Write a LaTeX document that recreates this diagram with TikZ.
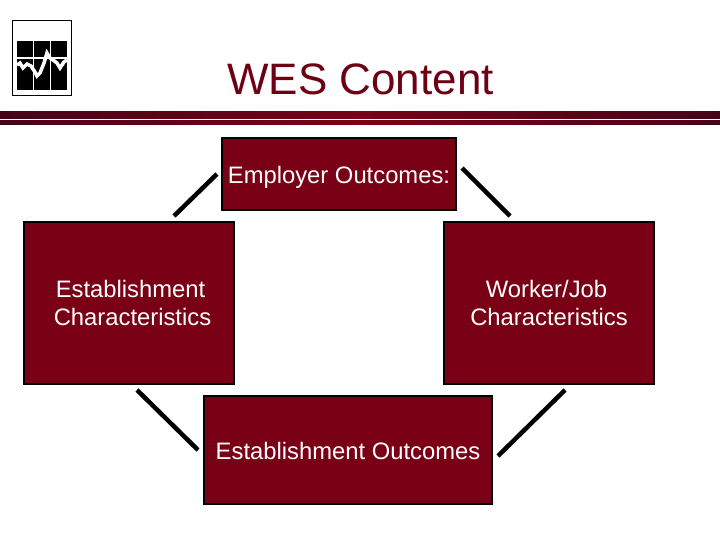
\documentclass[tikz,border=0pt]{standalone}
\usepackage{fontspec}
\setmainfont{Liberation Sans}
\definecolor{wine}{RGB}{122,0,22}
\definecolor{winedark}{RGB}{70,4,24}
\begin{document}
\begin{tikzpicture}[x=1pt, y=-1pt]
		\tikzstyle{Box}		= [rectangle, draw=black, line width=2pt, fill=wine, text=white, inner sep=0pt, align=center, font=\fontsize{23.8}{28}\selectfont]
		\tikzstyle{Link}	= [line width=4.5pt, black]
		\tikzstyle{Bar}		= [left color=winedark, right color=winedark, middle color=wine]
		\tikzstyle{Grid}	= [line width=1.2pt, white]

		\useasboundingbox (0, 0) rectangle (720, 540);

		\node (title) at (360.5, 79) [text=wine!90!black, font=\fontsize{44}{50}\selectfont]{WES Content};

		\shade[Bar] (0, 112) rectangle (720, 119);
		\shade[Bar] (0, 121) rectangle (720, 125);

		% logo
		\draw[black, line width=1pt, fill=white] (12.5, 20.5) rectangle (71.5, 95.5);
		\fill[black] (17, 41) rectangle (67, 90);
		\draw[Grid] (33.5, 41) -- (33.5, 90);
		\draw[Grid] (50.5, 41) -- (50.5, 90);
		\draw[Grid] (17, 58) -- (67, 58);
		\draw[white, line width=3.5pt] (17, 65) -- (20, 63) -- (23, 68) -- (27, 64) -- (31, 66) -- (35, 72) -- (37, 76) -- (40, 73) -- (44, 63) -- (47, 53) -- (50, 58) -- (53, 60) -- (57, 63) -- (60, 68) -- (64, 62) -- (67, 60);

		\node (employer) at (339, 174) [Box, minimum width=234pt, minimum height=72pt, text height=25pt, text depth=5pt]{Employer Outcomes:};
		\node (estchar) at (129, 303) [Box, minimum width=210pt, minimum height=162pt]{\hspace*{3pt}Establishment\\\hspace*{7pt}Characteristics};
		\node (workchar) at (549, 303) [Box, minimum width=210pt, minimum height=162pt]{Worker/Job\hspace*{5pt}\\Characteristics};
		\node (estout) at (348, 450) [Box, minimum width=288pt, minimum height=108pt, text height=23pt, text depth=5pt]{Establishment Outcomes};

		\coordinate (a1) at (174, 216);
		\coordinate (a2) at (217, 174);
		\coordinate (b1) at (462, 168);
		\coordinate (b2) at (510, 216);
		\coordinate (c1) at (137, 390);
		\coordinate (c2) at (198, 450);
		\coordinate (d1) at (498, 456);
		\coordinate (d2) at (565, 390);

		\draw (a1) to (a2) [Link];
		\draw (b1) to (b2) [Link];
		\draw (c1) to (c2) [Link];
		\draw (d1) to (d2) [Link];
	\end{tikzpicture}
\end{document}
